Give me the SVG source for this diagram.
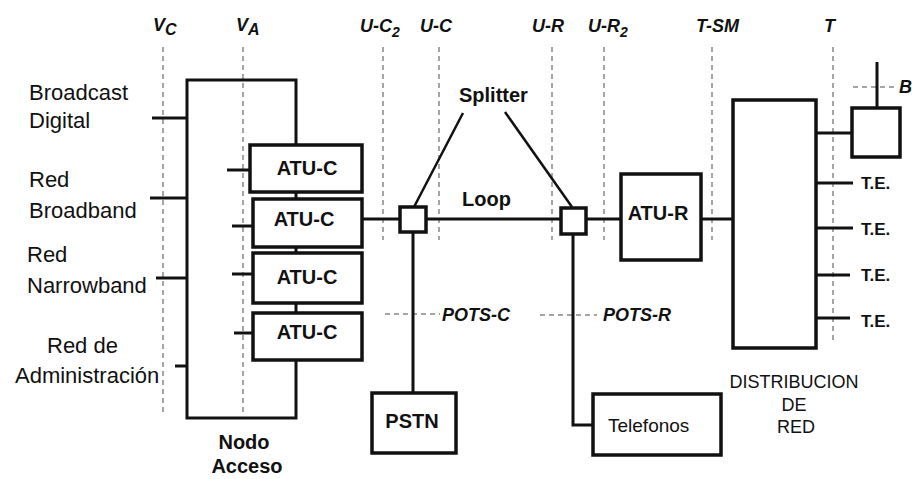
<svg xmlns="http://www.w3.org/2000/svg" width="912" height="479" viewBox="0 0 912 479">
<style>
.ln{stroke:#111;stroke-width:3;fill:none}
.thin{stroke:#111;stroke-width:2.5;fill:none}
.box{stroke:#111;stroke-width:3.5;fill:#fff}
.dash{stroke:#888;stroke-width:1.5;stroke-dasharray:5 4;fill:none}
text{font-family:"Liberation Sans",Arial,sans-serif;fill:#111}
.big{font-size:22px}
.b20{font-size:20px;font-weight:bold}
.lbl{font-size:18px;font-weight:bold;font-style:italic}
.te{font-size:17px;font-weight:bold}
.mid{text-anchor:middle}
</style>
<rect width="912" height="479" fill="#fff"/>
<g id="reference-lines">
<line class="dash" x1="163" y1="47" x2="163" y2="415"/>
<line class="dash" x1="243" y1="47" x2="243" y2="412"/>
<line class="dash" x1="383" y1="47" x2="383" y2="240"/>
<line class="dash" x1="439" y1="47" x2="439" y2="240"/>
<line class="dash" x1="552" y1="47" x2="552" y2="240"/>
<line class="dash" x1="604" y1="47" x2="604" y2="240"/>
<line class="dash" x1="712" y1="47" x2="712" y2="240"/>
<line class="dash" x1="833" y1="47" x2="833" y2="343"/>
<line class="dash" x1="385" y1="314" x2="440" y2="314"/>
<line class="dash" x1="540" y1="315" x2="597" y2="315"/>
<line class="dash" x1="853" y1="87" x2="897" y2="87"/>
</g>
<g id="reference-labels" class="lbl">
<text x="153" y="31">V<tspan dy="4" font-size="16">C</tspan></text>
<text x="236" y="31">V<tspan dy="4" font-size="16">A</tspan></text>
<text x="360" y="32">U-C<tspan dy="5" font-size="14">2</tspan></text>
<text x="420" y="32">U-C</text>
<text x="532" y="32">U-R</text>
<text x="588" y="32">U-R<tspan dy="5" font-size="14">2</tspan></text>
<text x="696" y="32">T-SM</text>
<text x="824" y="32">T</text>
<text x="442" y="321">POTS-C</text>
<text x="603" y="321">POTS-R</text>
<text x="899" y="93">B</text>
</g>
<g id="connectors">
<line class="ln" x1="152" y1="118" x2="187" y2="118"/>
<line class="ln" x1="150" y1="198" x2="187" y2="198"/>
<line class="ln" x1="156" y1="278" x2="187" y2="278"/>
<line class="ln" x1="175" y1="366" x2="187" y2="366"/>
<line class="ln" x1="227" y1="170" x2="250" y2="170"/>
<line class="ln" x1="232" y1="226" x2="253" y2="226"/>
<line class="ln" x1="232" y1="274" x2="253" y2="274"/>
<line class="ln" x1="234" y1="333" x2="253" y2="333"/>
<line class="ln" x1="362" y1="219" x2="400" y2="219"/>
<line class="ln" x1="426" y1="219" x2="561" y2="219"/>
<line class="ln" x1="586" y1="219" x2="621" y2="219"/>
<line class="ln" x1="701" y1="219" x2="733" y2="219"/>
<line class="ln" x1="413" y1="232" x2="413" y2="393"/>
<path class="ln" d="M573,234 V425 H593"/>
<line class="thin" x1="463" y1="113" x2="414" y2="207"/>
<line class="thin" x1="505" y1="112" x2="572" y2="207"/>
<line class="ln" x1="816" y1="133" x2="852" y2="133"/>
<line class="ln" x1="877" y1="62" x2="877" y2="108"/>
<line class="ln" x1="816" y1="183" x2="853" y2="183"/>
<line class="ln" x1="816" y1="228" x2="853" y2="228"/>
<line class="ln" x1="816" y1="275" x2="850" y2="275"/>
<line class="ln" x1="816" y1="318" x2="850" y2="318"/>
</g>
<g id="nodo-acceso">
<rect class="ln" x="187" y="80" width="109" height="338"/>
<text class="b20 mid" x="244" y="449" font-size="19">Nodo</text>
<text class="b20 mid" x="247" y="473" font-size="19">Acceso</text>
</g>
<g id="atu-c-1"><rect class="box" x="250" y="145" width="112" height="47"/><text class="b20 mid" x="307" y="175">ATU-C</text></g>
<g id="atu-c-2"><rect class="box" x="253" y="199" width="109" height="48"/><text class="b20 mid" x="304" y="226">ATU-C</text></g>
<g id="atu-c-3"><rect class="box" x="253" y="253" width="109" height="50"/><text class="b20 mid" x="307" y="284">ATU-C</text></g>
<g id="atu-c-4"><rect class="box" x="253" y="313" width="109" height="47"/><text class="b20 mid" x="307" y="339">ATU-C</text></g>
<g id="splitter-c"><rect class="box" x="400" y="207" width="26" height="25"/></g>
<g id="splitter-r"><rect class="box" x="561" y="208" width="25" height="26"/></g>
<g id="splitter-label"><text class="b20" x="459" y="102">Splitter</text></g>
<g id="loop-label"><text class="b20" x="462" y="206">Loop</text></g>
<g id="atu-r"><rect class="box" x="621" y="174" width="80" height="86"/><text class="b20 mid" x="658" y="220">ATU-R</text></g>
<g id="pstn"><rect class="box" x="372" y="393" width="84" height="60"/><text class="b20 mid" x="412" y="428" font-size="21">PSTN</text></g>
<g id="telefonos"><rect class="box" x="593" y="394" width="128" height="61"/><text x="608" y="432" font-size="19">Telefonos</text></g>
<g id="distribucion-red">
<rect class="box" x="733" y="100" width="83" height="248"/>
<text class="mid" x="794" y="388" font-size="18">DISTRIBUCION</text>
<text class="mid" x="794" y="411" font-size="18">DE</text>
<text class="mid" x="796" y="433" font-size="18">RED</text>
</g>
<g id="terminal-b"><rect class="box" x="852" y="108" width="48" height="49"/></g>
<g id="te-labels" class="te">
<text x="861" y="189">T.E.</text>
<text x="861" y="235">T.E.</text>
<text x="861" y="281">T.E.</text>
<text x="861" y="327">T.E.</text>
</g>
<g id="network-labels" class="big">
<text x="29" y="100">Broadcast</text>
<text x="29" y="128">Digital</text>
<text x="29" y="187">Red</text>
<text x="29" y="218">Broadband</text>
<text x="27" y="262">Red</text>
<text x="27" y="293">Narrowband</text>
<text x="47" y="353">Red de</text>
<text x="15" y="383">Administración</text>
</g>
</svg>
